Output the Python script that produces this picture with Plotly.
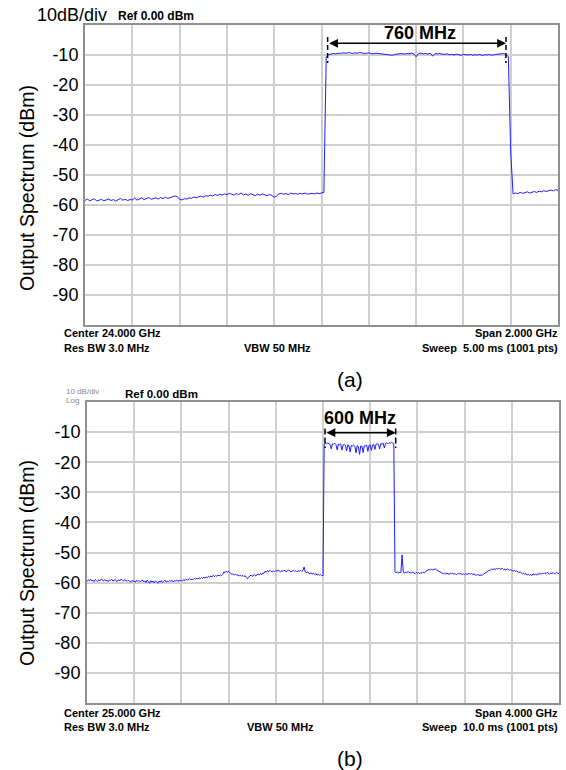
import numpy as np
import plotly.graph_objects as go

# ---------------- data ----------------
# Panel (a): center 24 GHz, span 2 GHz, 10 MHz step
a_start_ghz = 23.0
a_stop_ghz = 25.0
a_level_dbm = [
    -58.5, -58.0, -58.6, -58.2, -57.9, -58.7, -58.3, -58.1, -58.6, -58.4,
    -58.0, -58.5, -58.2, -58.7, -58.3, -57.8, -58.4, -58.1, -58.5, -58.2,
    -58.3, -57.7, -58.4, -58.0, -57.6, -58.2, -57.9, -57.5, -58.1, -57.8,
    -57.6, -58.0, -57.5, -57.9, -57.4, -57.8, -57.6, -57.3, -57.0, -57.2,
    -58.1, -58.3, -57.9, -58.0, -57.6, -57.8, -57.3, -57.6, -57.2, -57.0,
    -57.4, -56.9, -57.1, -56.7, -57.0, -56.5, -56.8, -56.4, -56.7, -56.3,
    -56.6, -56.1, -56.4, -56.7, -56.2, -56.5, -56.0, -56.6, -56.3, -56.8,
    -56.2, -56.5, -56.9, -56.4, -56.7, -56.3, -56.6, -56.9, -56.5, -56.8,
    -57.4, -57.0, -56.3, -56.1, -56.4, -56.2, -56.5, -56.0, -56.3, -56.2,
    -56.4, -56.1, -56.3, -56.0, -56.4, -56.2, -56.1, -56.3, -56.0, -56.2,
    -56.1, -55.8,
    -10.6, -9.9,
    -9.7, -9.5, -9.6, -9.4, -9.5, -9.3, -9.4,
    -9.4, -9.2, -9.5, -9.3, -9.4, -9.2, -9.3, -9.5, -9.4, -9.3, -9.5, -9.6, -9.4, -9.5, -9.6,
    -9.7, -9.8, -10.0, -9.9, -10.1, -9.8, -9.7,
    -9.6, -9.5, -9.7, -9.5, -9.6, -9.4, -9.6, -10.6, -9.5, -9.4, -9.6, -9.5, -9.7, -9.4,
    -10.4, -9.5, -9.6, -9.5,
    -9.7, -9.8, -9.6, -9.9, -9.8, -10.0, -9.7, -9.9, -10.1, -9.8, -9.9, -10.0, -9.8, -10.1,
    -9.9, -10.0, -9.8, -10.2, -9.9, -10.0, -9.8, -10.1, -9.9, -9.8, -9.7, -9.6, -9.5, -9.8,
    -10.6,
    -42.0, -56.3,
    -56.0, -56.2, -55.8, -56.1, -55.9, -55.6, -56.0, -55.7, -55.5, -55.8,
    -55.4, -55.6, -55.2, -55.5, -55.3, -55.0, -55.3, -54.9, -55.1,
]

# Panel (b): center 25 GHz, span 4 GHz, 10 MHz step
b_start_ghz = 23.0
b_stop_ghz = 27.0
b_level_dbm = [
    -59.6, -59.1, -59.4, -58.9, -59.5, -59.2, -59.7, -59.0, -59.3, -59.6,
    -59.1, -59.4, -58.8, -59.3, -59.5, -59.0, -59.4, -59.2, -59.7, -59.1,
    -59.3, -58.9, -59.5, -59.2, -59.0, -59.6, -59.3, -59.1, -59.4, -58.8,
    -59.2, -59.5, -59.0, -59.3, -59.6, -59.2, -59.4, -59.8, -59.3, -59.6,
    -59.4, -59.9, -59.2, -59.6, -59.3, -59.7, -59.5, -59.1, -59.8, -59.4,
    -60.0, -59.2, -59.7, -60.2, -59.3, -59.9, -59.5, -60.1, -59.4, -59.8,
    -60.2, -59.5, -59.9, -59.3, -60.0, -59.6, -59.2, -59.8, -59.5, -59.7,
    -59.3, -59.6, -59.2, -59.8, -59.4, -59.5, -59.1, -59.6, -59.3, -59.4,
    -59.2, -59.5, -59.0, -59.3, -58.9, -59.2, -59.0, -58.7, -59.1, -58.8,
    -59.0, -58.6, -58.9, -58.5, -58.8, -58.4, -58.7, -58.3, -58.6, -58.2,
    -58.5, -58.1, -58.4, -57.9, -58.2, -57.8, -58.1, -57.6, -58.0, -57.7,
    -57.9, -57.5, -57.8, -57.4, -57.7, -57.3, -56.4, -56.7, -56.2, -56.5,
    -56.3, -56.8, -57.0, -57.3, -57.1, -57.5, -57.2, -57.6, -57.4, -57.8,
    -57.5, -57.9, -57.6, -58.0, -57.7, -58.3, -58.7, -58.1, -57.8, -57.5,
    -57.9, -57.6, -57.3, -57.8, -57.4, -57.1, -57.5, -57.0, -57.3, -56.8,
    -56.9, -56.2, -56.6, -56.0, -56.4, -55.9, -56.3, -56.5, -56.1, -56.4,
    -56.0, -56.3, -55.8, -56.2, -56.5, -56.0, -56.3, -55.9, -56.2, -56.4,
    -56.0, -55.8, -56.2, -56.5, -56.1, -55.9, -56.3, -56.0, -56.4, -56.1,
    -56.2, -55.9, -56.3, -56.0, -54.8, -56.5, -56.8, -56.4, -56.9, -57.1,
    -56.7, -57.2, -56.9, -57.4, -57.0, -57.5, -57.2, -57.6, -57.3, -57.7,
    -57.6,
    -14.0, -13.7, -13.9, -13.6, -13.8, -14.1, -15.6, -13.9, -14.0, -13.7,
    -14.2, -15.9, -14.0, -14.2, -13.9, -16.0, -14.3, -14.1, -14.4, -16.3,
    -14.2, -14.5, -16.6, -14.4, -14.6, -14.3, -14.7, -16.9, -14.5, -14.8,
    -17.4, -14.6, -14.7, -16.8, -14.5, -14.6, -14.3, -16.4, -14.4, -14.2,
    -16.1, -14.3, -14.1, -15.8, -14.0, -13.9, -14.1, -15.6, -13.8, -14.0,
    -13.7, -15.3, -13.8, -13.6, -13.9, -13.5, -13.7, -13.4, -13.6, -13.8,
    -56.3, -56.8, -56.4, -56.9, -56.5, -56.7, -50.8, -56.2, -56.9, -56.5,
    -56.8, -56.3, -56.7, -56.5, -56.9, -56.4, -56.8, -57.0, -56.6, -56.9,
    -56.7, -57.0, -56.6, -56.9, -56.5, -56.8, -56.3, -56.1, -55.9, -55.6,
    -55.9, -55.5, -55.8, -55.6, -55.4, -55.7, -55.9, -56.1, -56.4, -56.6,
    -56.9, -57.1, -56.8, -57.2, -56.9, -57.0, -57.3, -56.8, -57.1, -56.9,
    -57.2, -57.0, -57.4, -57.1, -56.9, -57.2, -57.0, -57.3, -57.1, -57.4,
    -57.0, -57.3, -57.1, -56.9, -57.2, -57.0, -57.3, -57.1, -57.4, -57.6,
    -57.3, -57.5, -57.7, -57.4, -57.6, -57.2, -57.0, -56.7, -56.4, -56.1,
    -56.0, -55.8, -55.5, -55.7, -55.4, -55.6, -55.3, -55.5, -55.2, -55.6,
    -55.4, -55.3, -55.7, -55.5, -55.8, -55.4, -55.6, -55.9, -55.7, -56.0,
    -56.2, -55.9, -56.3, -56.1, -56.5, -56.7, -56.4, -56.9, -57.1, -56.8,
    -57.3, -57.0, -57.5, -57.2, -57.6, -57.3, -57.7, -57.1, -57.4, -57.2,
    -57.5, -57.0, -57.3, -56.9, -57.2, -56.8, -57.1, -56.7, -57.0, -56.6,
    -56.9, -57.2, -56.8, -57.0, -56.7, -57.1, -56.9, -56.6, -57.0, -56.8,
]

y_ticks = [-10, -20, -30, -40, -50, -60, -70, -80, -90]
y_tick_text = ["-10", "-20", "-30", "-40", "-50", "-60", "-70", "-80", "-90"]

# bandwidth markers (GHz) and their label
a_band_edges = [24.026, 24.780]
a_band_label = "760 MHz"
b_band_edges = [25.017, 25.616]
b_band_label = "600 MHz"

a_footer = ["Center 24.000 GHz", "Res BW 3.0 MHz", "VBW 50 MHz",
            "Span 2.000 GHz", "Sweep\u00a0 5.00 ms (1001 pts)"]
b_footer = ["Center 25.000 GHz", "Res BW 3.0 MHz", "VBW 50 MHz",
            "Span 4.000 GHz", "Sweep\u00a0 10.0 ms (1001 pts)"]

# ---------------- figure ----------------
W, H = 566, 770
FONT = "Liberation Sans, Arial, sans-serif"
TRACE = "rgb(30,30,255)"
GRID = "#cfcfcf"
BORDER = "#8f8f8f"


def px(x):
    return x / W


def py(y):
    return 1 - y / H


a_freq = np.linspace(a_start_ghz, a_stop_ghz, len(a_level_dbm))
b_freq = np.linspace(b_start_ghz, b_stop_ghz, len(b_level_dbm))

fig = go.Figure()
fig.add_trace(go.Scatter(x=a_freq, y=a_level_dbm, mode="lines",
                         line=dict(color=TRACE, width=1), xaxis="x", yaxis="y",
                         hoverinfo="skip", showlegend=False))
fig.add_trace(go.Scatter(x=b_freq, y=b_level_dbm, mode="lines",
                         line=dict(color=TRACE, width=1), xaxis="x2", yaxis="y2",
                         hoverinfo="skip", showlegend=False))


def xax(domain, rng, dtick, anchor):
    return dict(domain=domain, range=rng, dtick=dtick, tick0=rng[0],
                showticklabels=False, ticks="", showgrid=True, gridcolor=GRID,
                gridwidth=1.5, zeroline=False, showline=True, mirror=True,
                linecolor=BORDER, linewidth=2, anchor=anchor, fixedrange=True)


def yax(domain, anchor):
    return dict(domain=domain, range=[-100, 0], tickvals=y_ticks,
                ticktext=y_tick_text, tickfont=dict(family=FONT, size=18, color="black"),
                ticks="outside", ticklen=1, tickcolor="rgba(0,0,0,0)",
                showgrid=True, gridcolor=GRID, gridwidth=1.5, zeroline=False,
                showline=True, mirror=True, linecolor=BORDER, linewidth=2,
                anchor=anchor, fixedrange=True)


fig.update_layout(
    width=W, height=H, margin=dict(l=0, r=0, t=0, b=0),
    paper_bgcolor="white", plot_bgcolor="white",
    xaxis=xax([px(85), px(558)], [a_start_ghz, a_stop_ghz], 0.2, "y"),
    yaxis=yax([py(325), py(25)], "x"),
    xaxis2=xax([px(87), px(559)], [b_start_ghz, b_stop_ghz], 0.4, "y2"),
    yaxis2=yax([py(703), py(402)], "x2"),
    showlegend=False,
)

ann = []


def text(t, x, y, size, anchor="left", bold=False, color="black", angle=0):
    ann.append(dict(text=(f"<b>{t}</b>" if bold else t), x=px(x), y=py(y),
                    xref="paper", yref="paper", xanchor=anchor, yanchor="middle",
                    showarrow=False, textangle=angle, borderpad=0,
                    font=dict(family=FONT, size=size, color=color)))


# panel (a) texts
text("10dB/div", 36, 15, 18)
text("Ref 0.00 dBm", 117, 16, 12, bold=True)
text(a_band_label, 420, 33, 18, anchor="center", bold=True)
text("Output Spectrum (dBm)", 27, 188, 19.5, anchor="center", angle=-90)
text(a_footer[0], 63, 333, 11, bold=True)
text(a_footer[1], 63, 347.5, 11, bold=True)
text(a_footer[2], 277, 347.5, 11, anchor="center", bold=True)
text(a_footer[3], 559, 333, 11, anchor="right", bold=True)
text(a_footer[4], 559, 347.5, 11, anchor="right", bold=True)
text("(a)", 350, 380, 21, anchor="center")

# panel (b) texts
text("10 dB/div", 65, 391.5, 8, color="#8a8a8a")
text("Log", 65, 400.5, 8, color="#8a8a8a")
text("Ref 0.00 dBm", 124, 394, 11.5, bold=True)
text(b_band_label, 360, 418, 18, anchor="center", bold=True)
text("Output Spectrum (dBm)", 27, 563, 19.5, anchor="center", angle=-90)
text(b_footer[0], 63, 713, 11, bold=True)
text(b_footer[1], 63, 726.5, 11, bold=True)
text(b_footer[2], 280, 726.5, 11, anchor="center", bold=True)
text(b_footer[3], 559, 713, 11, anchor="right", bold=True)
text(b_footer[4], 559, 726.5, 11, anchor="right", bold=True)
text("(b)", 350, 758, 21, anchor="center")

# double arrows
for (x0, x1), yv, xr, yr in [(a_band_edges, -6.1, "x", "y"),
                             (b_band_edges, -10.2, "x2", "y2")]:
    ann.append(dict(x=x1, y=yv, ax=x0, ay=yv, xref=xr, yref=yr,
                    axref=xr, ayref=yr, text="", showarrow=True,
                    arrowhead=2, arrowside="end+start", arrowsize=1.1,
                    arrowwidth=1.6, arrowcolor="black"))

fig.update_layout(annotations=ann)

shapes = []
for xv in a_band_edges:
    shapes.append(dict(type="line", xref="x", yref="y", x0=xv, x1=xv, y0=-4.0, y1=-12.7,
                       line=dict(color="black", width=1.5, dash="5px,3px")))
for xv in b_band_edges:
    shapes.append(dict(type="line", xref="x2", yref="y2", x0=xv, x1=xv, y0=-8.8, y1=-15.3,
                       line=dict(color="black", width=1.5, dash="6px,3px")))
fig.update_layout(shapes=shapes)

fig.write_html("out.html")
